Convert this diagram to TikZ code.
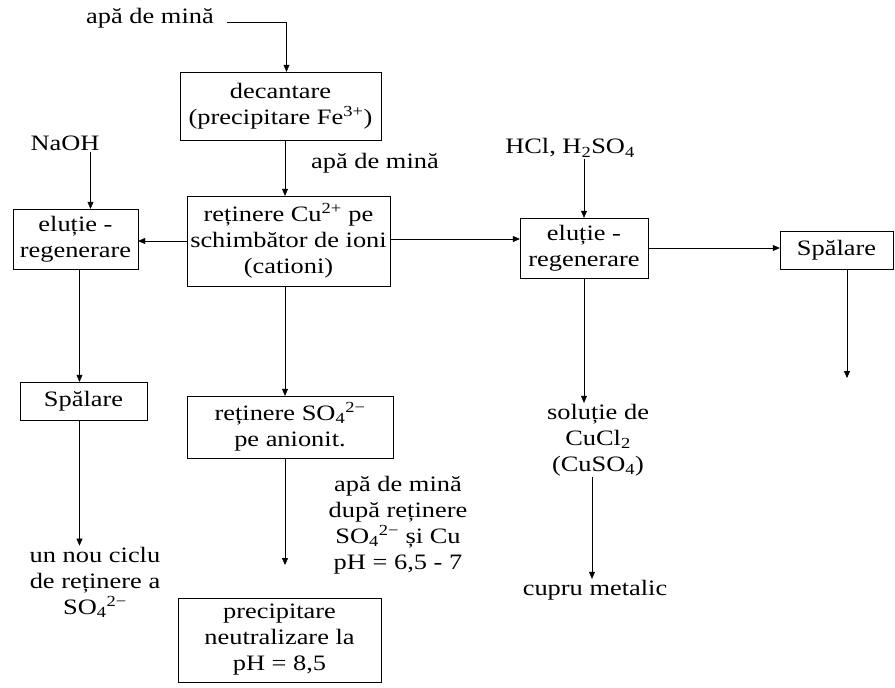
\documentclass[tikz,border=0pt]{standalone}
\usepackage{fontspec}
\setmainfont{Liberation Serif}[FakeStretch=1.2]
\usetikzlibrary{arrows.meta,calc}
\tikzset{
  box/.style={draw,thin,align=center,inner sep=2pt},
  lbl/.style={align=center,inner sep=1pt},
  arr/.style={thin,-{Triangle[length=7pt,width=6pt]}}
}
\begin{document}
\begin{tikzpicture}[x=1pt,y=-1pt,font=\fontsize{22}{26}\selectfont]
            \useasboundingbox (0,0) rectangle (895,688);
            \node[lbl] (apa1) at (150,18) {apă de mină};
            \node[box,minimum width=201,minimum height=68] (dec) at (280.5,106) {decantare\\(precipitare Fe\textsuperscript{3+})};
            \node[lbl] (apa2) at (375,163) {apă de mină};
            \node[box,minimum width=203,minimum height=90] (ret) at (288.5,241) {reținere Cu\textsuperscript{2+} pe\\schimbător de ioni\\(cationi)};
            \node[lbl] (naoh) at (65,143) {NaOH};
            \node[box,minimum width=125,minimum height=60] (elutL) at (75.5,239) {eluție -\\regenerare};
            \node[lbl] (acid) at (570,148) {HCl, H\textsubscript{2}SO\textsubscript{4}};
            \node[box,minimum width=128,minimum height=60] (elutR) at (584,248) {eluție -\\regenerare};
            \node[box,minimum width=113,minimum height=38] (spalR) at (836.5,250) {Spălare};
            \coordinate (capR) at (847,378);
            \node[box,minimum width=127,minimum height=38] (spalL) at (83.5,401) {Spălare};
            \node[lbl] (ciclu) at (95,582) {un nou ciclu\\de reținere a\\SO\textsubscript{4}\textsuperscript{2−}};
            \node[box,minimum width=206,minimum height=62] (so4) at (290,427) {reținere SO\textsubscript{4}\textsuperscript{2−}\\pe anionit.};
            \coordinate (capM) at (285,565);
            \node[lbl] (apa3) at (398,525) {apă de mină\\după reținere\\SO\textsubscript{4}\textsuperscript{2−} și Cu\\pH = 6,5 - 7};
            \node[box,minimum width=203,minimum height=84] (prec) at (279.5,640) {precipitare\\neutralizare la\\pH = 8,5};
            \node[lbl] (sol) at (598,440) {soluție de\\CuCl\textsubscript{2}\\(CuSO\textsubscript{4})};
            \node[lbl] (cupru) at (595,590) {cupru metalic};
            \draw[arr] ([shift={(12,4)}]apa1.east) -| ([xshift=6]dec.north);
            \draw[arr] ([xshift=4.5]dec.south) -- ([xshift=4.5]dec.south |- ret.north);
            \draw[arr] ([xshift=15]elutL.north |- naoh.south) -- ([xshift=15]elutL.north);
            \draw[arr] (ret.west) -- (ret.west -| elutL.east);
            \draw[arr] ([yshift=2]ret.east) -- ([yshift=2]ret.east -| elutR.west);
            \draw[arr] (elutR.north |- acid.south) -- (elutR.north);
            \draw[arr] (elutR.east) -- (elutR.east -| spalR.west);
            \draw[arr] (capR |- spalR.south) -- (capR);
            \draw[arr] (elutR.south) -- (elutR.south |- sol.north);
            \draw[arr] ([xshift=-6]sol.south) -- ([xshift=-6]sol.south |- cupru.north);
            \draw[arr] ([xshift=4]elutL.south) -- ([xshift=4]elutL.south |- spalL.north);
            \draw[arr] ([xshift=-4]spalL.south) -- ([xshift=-4]spalL.south |- ciclu.north);
            \draw[arr] ([xshift=-3.5]ret.south) -- ([xshift=-3.5]ret.south |- so4.north);
            \draw[arr] (capM |- so4.south) -- (capM);%sortie vers neutralisation
\end{tikzpicture}
\end{document}
